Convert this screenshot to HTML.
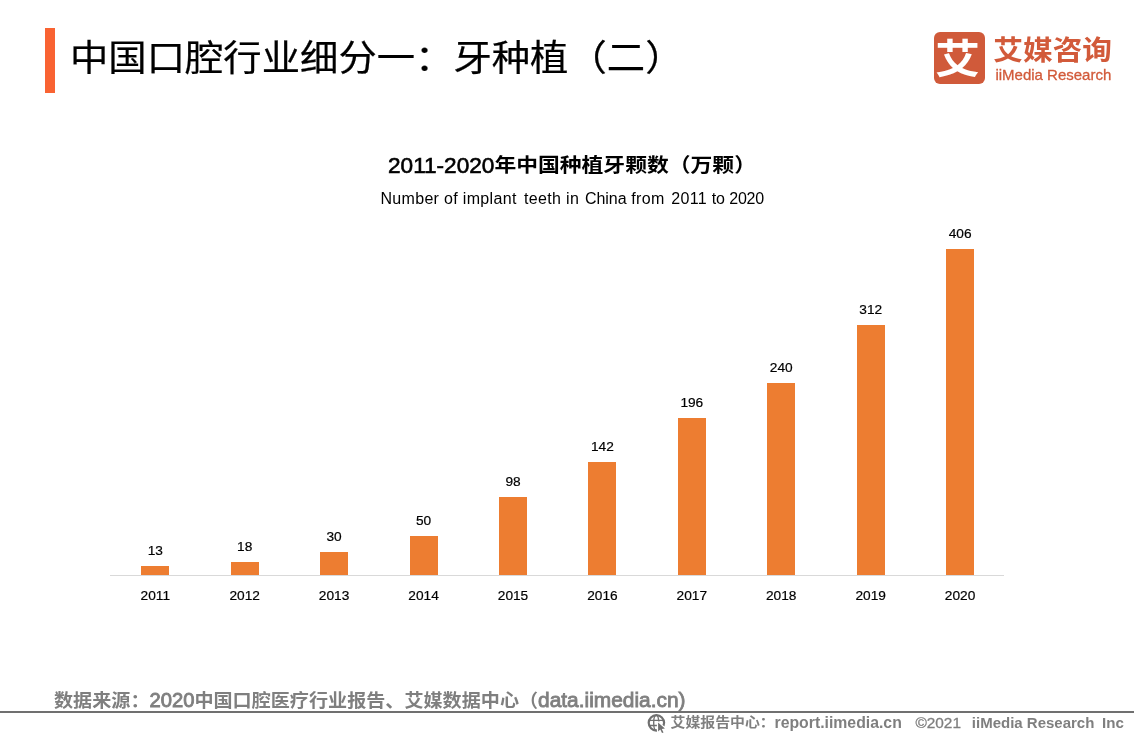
<!DOCTYPE html>
<html lang="zh-CN">
<head>
<meta charset="utf-8">
<title>中国口腔行业细分一：牙种植（二）</title>
<style>
  html, body { margin: 0; padding: 0; }
  body {
    width: 1134px; height: 737px; overflow: hidden; position: relative;
    background: #ffffff;
    font-family: "Liberation Sans", "Noto Sans CJK SC", sans-serif;
    color: #000;
  }
  .abs { position: absolute; white-space: nowrap; margin: 0; }
  .lat { font-family: "Liberation Sans", sans-serif; display: inline-block; }

  .sq { display: inline-block; transform: scaleY(0.9); transform-origin: 50% 52%; }
  .sq2 { transform: scaleY(0.952); transform-origin: 50% 80%; }
  /* header */
  #accent { left: 45px; top: 28px; width: 10px; height: 65px; background: #f96332; }
  #title { left: 69.5px; top: 30.9px; font-size: 38px; line-height: 56px; font-weight: 400; color: #000; -webkit-text-stroke: 0.25px #000; transform: scale(1.009,0.945); transform-origin: 0 50%; }

  /* logo */
  #logo-box { left: 934px; top: 32px; width: 51px; height: 51.6px; border-radius: 6px; background: #d05a3a; overflow: hidden; }
  #logo-glyph { left: -1.7px; top: 2.3px; width: 51px; height: 52px; text-align: center; color: #fff; font-weight: 700; font-size: 41px; line-height: 50px; transform: scale(1.09,0.97); transform-origin: 50% 50%; }
  #logo-cn { left: 993.3px; top: 29px; font-size: 29.7px; line-height: 44px; font-weight: 700; color: #d25a3a; transform: scaleY(0.92); transform-origin: 0 50%; }
  #logo-en { left: 995.4px; top: 64.6px; font-size: 15px; line-height: 20px; color: #d25a3a; font-weight: 400; -webkit-text-stroke: 0.3px #d25a3a; }

  /* chart titles */
  #ctitle { left: 388px; top: 150.5px; font-size: 21.8px; line-height: 30px; font-weight: 700; color: #000; }
  #ct-lat { font-size: 22.6px; font-weight: 400; -webkit-text-stroke: 0.6px #000; }
  #csub { left: 380.4px; top: 187.5px; font-size: 16px; line-height: 22px; color: #000; letter-spacing: 0.33px; }

  /* chart */
  #axis { left: 110px; top: 575px; width: 894px; height: 1px; background: #d9d9d9; }
  .bar { position: absolute; width: 28px; background: #ed7d31; }
  .val, .yr { position: absolute; width: 60px; text-align: center; font-size: 13.7px; line-height: 16px; color: #000; -webkit-text-stroke: 0.2px #000; white-space: nowrap; }

  /* footer */
  #src { left: 54px; top: 686px; font-size: 19.1px; line-height: 28px; font-weight: 700; color: #7f7f7f; }
  #fline { left: 0; top: 711px; width: 1134px; height: 2px; background: #707070; }
  .fr { top: 711.4px; font-size: 14.9px; line-height: 22px; font-weight: 700; color: #7f7f7f; }
  #globe { left: 646px; top: 712px; width: 22px; height: 22px; }
</style>
</head>
<body>

<div id="accent" class="abs"></div>
<div id="title" class="abs">中国口腔行业细分一：牙种植（二）</div>

<div id="logo-box" class="abs"><div id="logo-glyph" class="abs">艾</div></div>
<div id="logo-cn" class="abs">艾媒咨询</div>
<div id="logo-en" class="abs">iiMedia Research</div>

<div id="ctitle" class="abs"><span class="lat" id="ct-lat">2011-2020</span><span class="sq" id="ct-cjk">年中国种植牙颗数（万颗）</span></div>
<div id="csub" class="abs">Number of implant <span style="margin-left:2.6px">teeth</span> in <span style="margin-left:0.9px;letter-spacing:-0.03px">China</span> from <span style="margin-left:1.8px">2011</span> <span style="letter-spacing:-0.1px">to</span> <span style="margin-left:-0.5px;letter-spacing:-0.2px">2020</span></div>

<div id="chart">
  <div id="axis" class="abs"></div>
  <div class="bar" style="left:141.3px;top:565.7px;height:9.3px"></div>
  <div class="val" style="left:125.3px;top:542.8px">13</div>
  <div class="yr" style="left:125.3px;top:588.3px">2011</div>
  <div class="bar" style="left:230.7px;top:561.7px;height:13.3px"></div>
  <div class="val" style="left:214.7px;top:538.8px">18</div>
  <div class="yr" style="left:214.7px;top:588.3px">2012</div>
  <div class="bar" style="left:320.1px;top:552.0px;height:23.0px"></div>
  <div class="val" style="left:304.1px;top:529.1px">30</div>
  <div class="yr" style="left:304.1px;top:588.3px">2013</div>
  <div class="bar" style="left:409.6px;top:535.9px;height:39.1px"></div>
  <div class="val" style="left:393.6px;top:513.0px">50</div>
  <div class="yr" style="left:393.6px;top:588.3px">2014</div>
  <div class="bar" style="left:499.0px;top:497.2px;height:77.8px"></div>
  <div class="val" style="left:483.0px;top:474.3px">98</div>
  <div class="yr" style="left:483.0px;top:588.3px">2015</div>
  <div class="bar" style="left:588.4px;top:461.8px;height:113.2px"></div>
  <div class="val" style="left:572.4px;top:438.9px">142</div>
  <div class="yr" style="left:572.4px;top:588.3px">2016</div>
  <div class="bar" style="left:677.8px;top:418.2px;height:156.8px"></div>
  <div class="val" style="left:661.8px;top:395.3px">196</div>
  <div class="yr" style="left:661.8px;top:588.3px">2017</div>
  <div class="bar" style="left:767.2px;top:382.8px;height:192.2px"></div>
  <div class="val" style="left:751.2px;top:359.9px">240</div>
  <div class="yr" style="left:751.2px;top:588.3px">2018</div>
  <div class="bar" style="left:856.7px;top:324.8px;height:250.2px"></div>
  <div class="val" style="left:840.7px;top:301.9px">312</div>
  <div class="yr" style="left:840.7px;top:588.3px">2019</div>
  <div class="bar" style="left:946.1px;top:249.0px;height:326.0px"></div>
  <div class="val" style="left:930.1px;top:226.1px">406</div>
  <div class="yr" style="left:930.1px;top:588.3px">2020</div>


</div>

<div id="src" class="abs"><span class="sq sq2">数据来源：</span><span class="lat" id="src-d" style="font-size:20.2px;font-weight:400;-webkit-text-stroke:0.85px #7f7f7f">2020</span><span class="sq sq2">中国口腔医疗行业报告、艾媒数据中心（</span><span class="lat" id="src-l" style="font-size:20.9px;font-weight:400;-webkit-text-stroke:0.85px #7f7f7f">data.iimedia.cn)</span></div>
<div id="fline" class="abs"></div>
<svg id="globe" class="abs" viewBox="646 712 22 22" fill="none" stroke="#707070">
  <circle cx="656.4" cy="722.85" r="7.7" stroke-width="2.2"/>
  <ellipse cx="656.2" cy="722.85" rx="2.5" ry="7.6" stroke-width="1.35"/>
  <path d="M649.2 720.4H663.6M649.2 725.5H663.6" stroke-width="1.35"/>
  <path d="M658.1 722.5V731.5L660.3 729.5L662.0 733.1L663.5 732.4L661.8 728.9L664.9 728.6Z" fill="#707070" stroke="#ffffff" stroke-width="2.4" stroke-linejoin="round" paint-order="stroke"/>
</svg>
<div id="fr1" class="abs fr" style="left:670.5px;transform:scaleY(0.905);transform-origin:0 78%">艾媒报告中心：</div>
<div id="fr2" class="abs fr" style="top:711.8px;left:774.5px;font-size:15.8px">report.iimedia.cn</div>
<div id="fr3" class="abs fr" style="top:711.8px;left:915.4px;font-size:15.4px;font-weight:400;-webkit-text-stroke:0.3px #7f7f7f">©2021</div>
<div id="fr4" class="abs fr" style="top:711.8px;left:971.8px;font-size:15.0px">iiMedia Research</div>
<div id="fr5" class="abs fr" style="top:711.8px;left:1102.1px;font-size:15.1px">Inc</div>

</body>
</html>
